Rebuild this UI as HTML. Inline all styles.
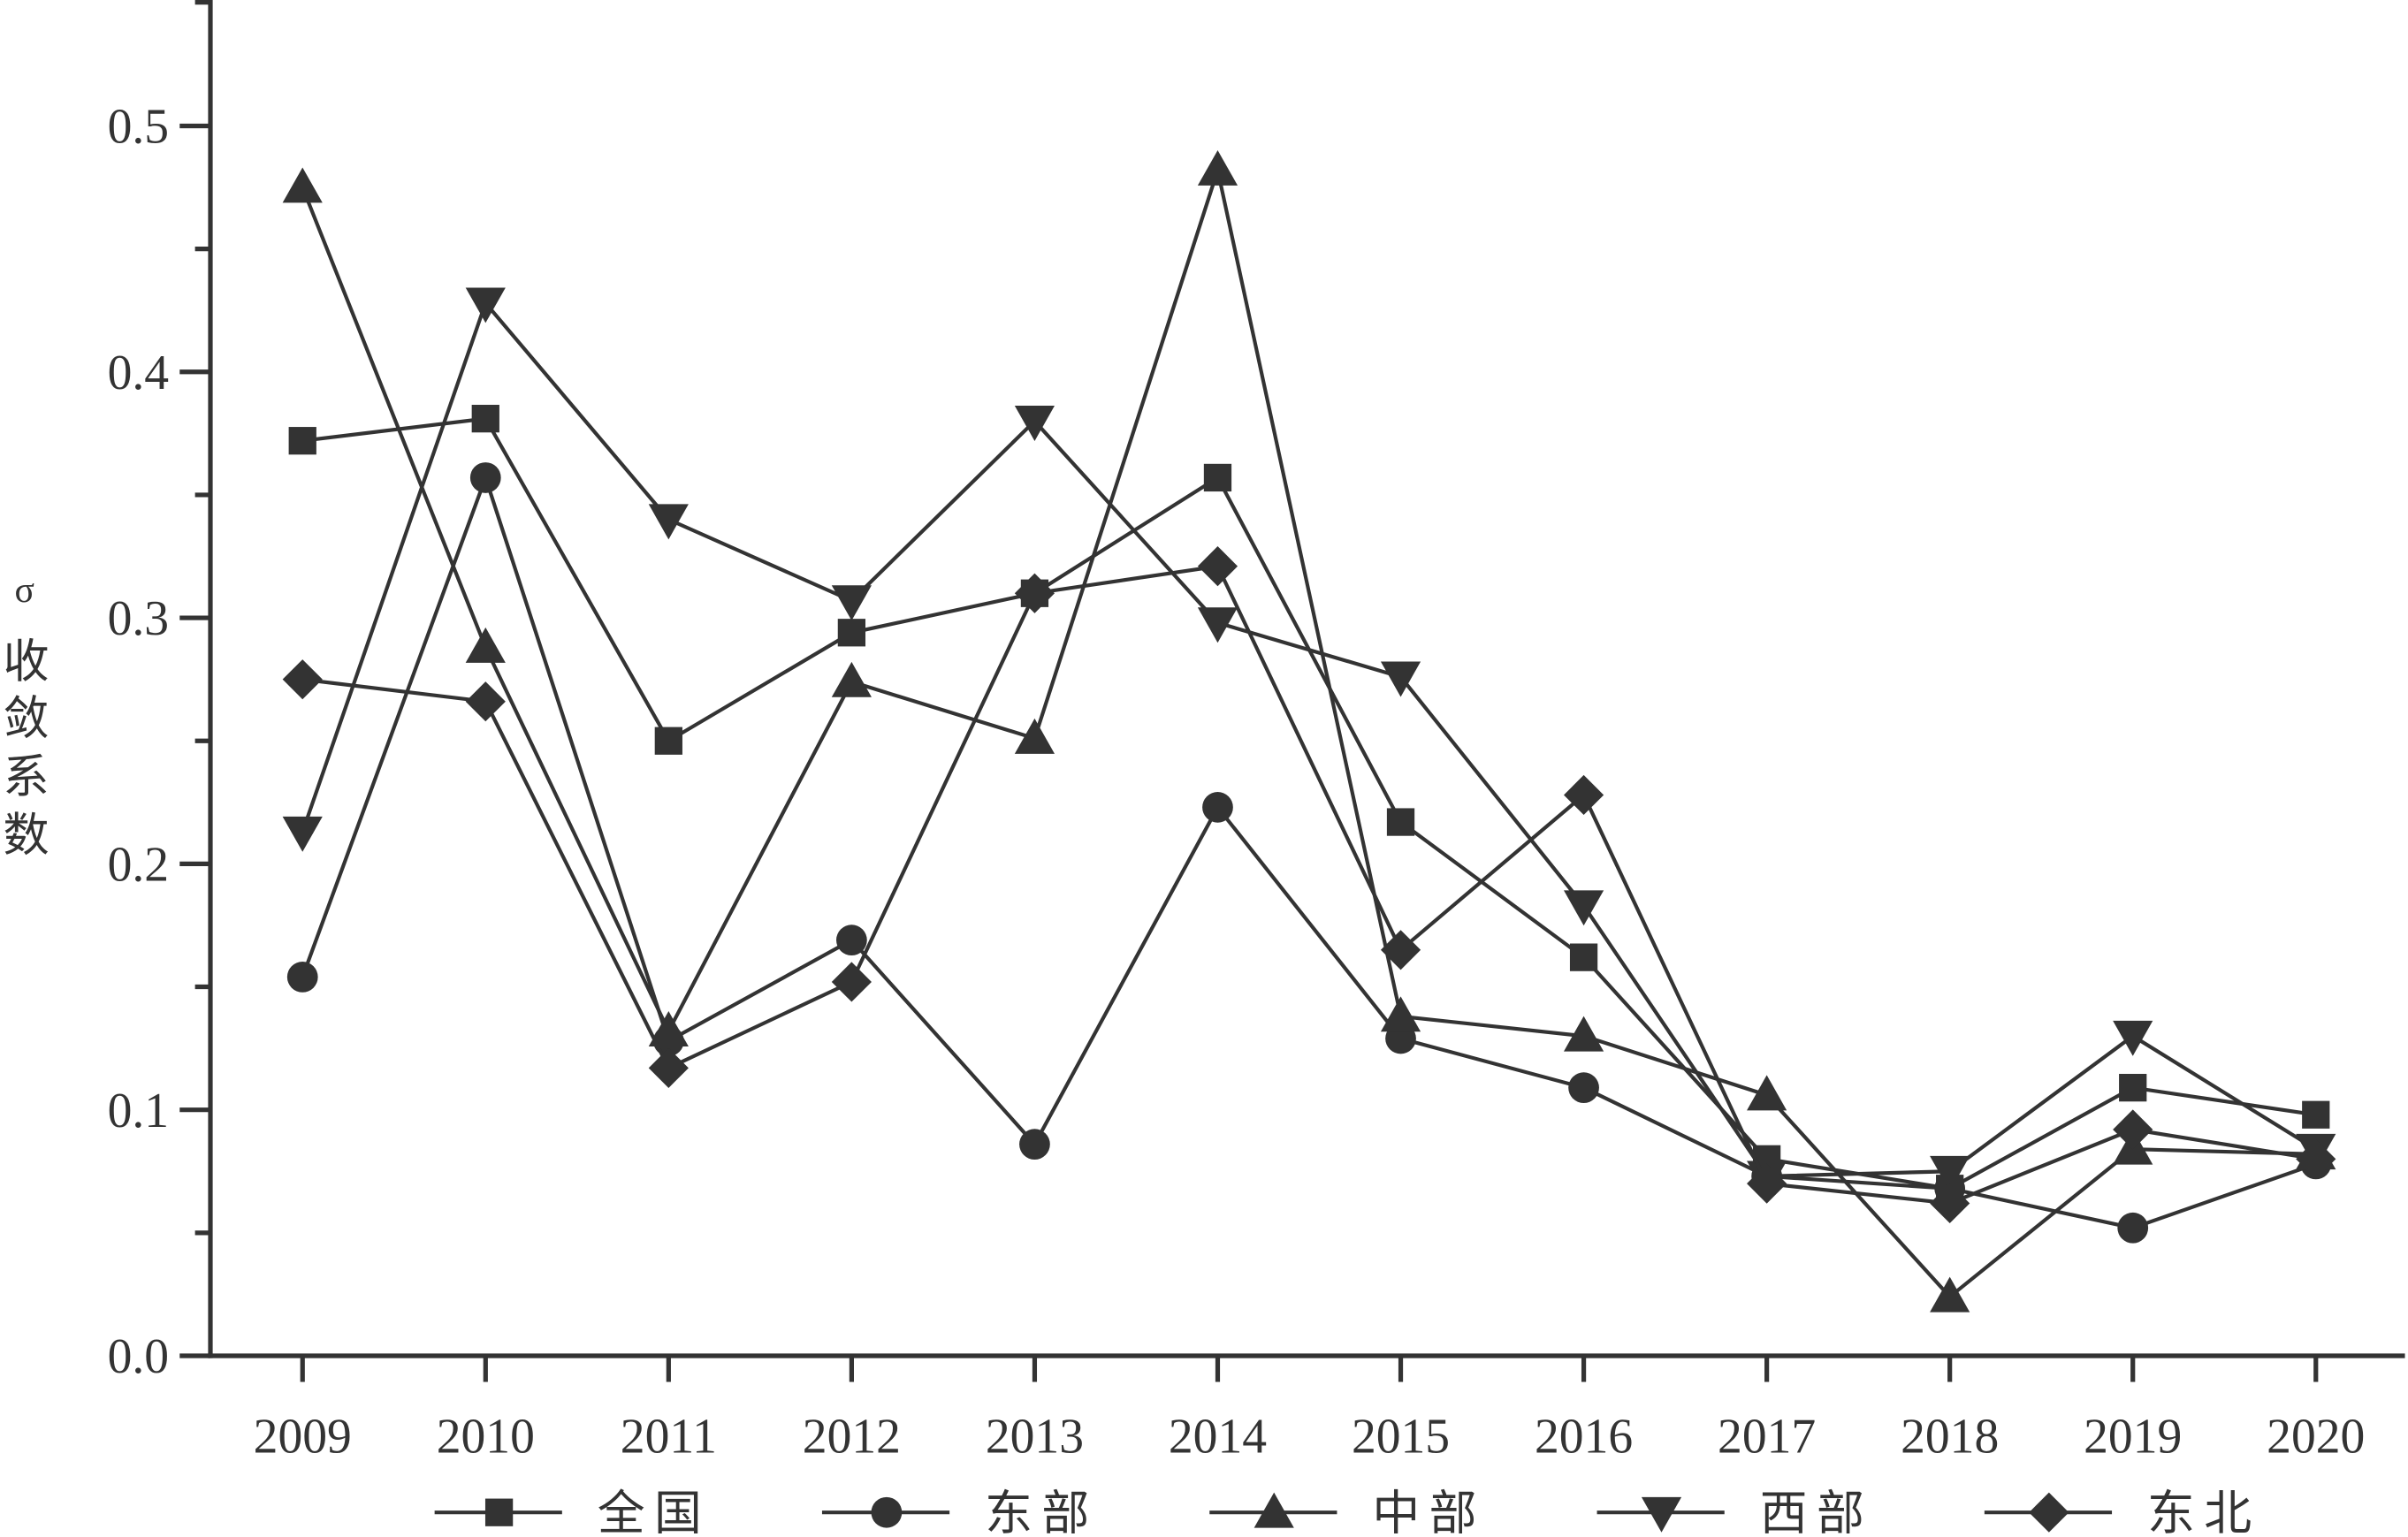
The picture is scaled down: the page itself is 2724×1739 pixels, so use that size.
<!DOCTYPE html>
<html><head><meta charset="utf-8"><style>html,body{margin:0;padding:0;background:#fff}svg{display:block}</style></head>
<body>
<svg id="chart" xmlns="http://www.w3.org/2000/svg" width="2724" height="1739" viewBox="0 0 1568 1001" font-family="'Liberation Serif','Noto Serif CJK SC',serif" fill="#333">
<g id="axes"></g>
<g id="series"></g>
<g id="legend"></g>
<g font-size="30" text-anchor="middle" font-family="'Liberation Serif','Noto Sans CJK SC',sans-serif">
<text x="16" y="392" font-size="24">σ</text>
<text x="17" y="441">收</text><text x="17" y="478">敛</text><text x="17" y="516">系</text><text x="17" y="554">数</text>
</g>
</svg>
<script>
const years=['2009','2010','2011','2012','2013','2014','2015','2016','2017','2018','2019','2020'];
const yTicks=['0.0','0.1','0.2','0.3','0.4','0.5'];
const seriesNames=['全国','东部','中部','西部','东北'];
const national=[.372,.381,.250,.294,.310,.357,.217,.162,.080,.068,.109,.098];
const east=[.154,.357,.128,.169,.086,.223,.129,.109,.073,.068,.052,.078];
const central=[.475,.288,.132,.274,.251,.482,.138,.130,.106,.024,.084,.082];
const west=[.213,.428,.340,.307,.380,.298,.276,.183,.073,.075,.130,.084];
const northeast=[.275,.266,.117,.152,.310,.321,.165,.228,.070,.062,.092,.080];
const NS='http://www.w3.org/2000/svg';
const C='#333';
const X0=197,DX=(1508-197)/11,Y0=883,YS=1602;
const xs=i=>X0+i*DX, ys=v=>Y0-v*YS;
function el(t,a,p){const e=document.createElementNS(NS,t);for(const k in a)e.setAttribute(k,a[k]);p.appendChild(e);return e;}
const ax=document.getElementById('axes');
let e=el('line',{x1:137,y1:0,x2:137,y2:884.5,stroke:C,'stroke-width':3},ax);

e=el('line',{x1:135.5,y1:883,x2:1566,y2:883,stroke:C,'stroke-width':3},ax);

el('line',{x1:127,y1:1.5,x2:137,y2:1.5,stroke:C,'stroke-width':3},ax);
yTicks.forEach((t,i)=>{const v=parseFloat(t),y=ys(v);
 el('line',{x1:117,y1:y,x2:137,y2:y,stroke:C,'stroke-width':3},ax);
 if(i<yTicks.length-1)el('line',{x1:127,y1:ys(v+0.05),x2:137,y2:ys(v+0.05),stroke:C,'stroke-width':3},ax);
 const tx=el('text',{x:110,y:y+11,'font-size':32,'text-anchor':'end'},ax);tx.textContent=t;
 });
years.forEach((t,i)=>{const x=xs(i);
 el('line',{x1:x,y1:883,x2:x,y2:900,stroke:C,'stroke-width':3},ax);
 const tx=el('text',{x:x,y:946,'font-size':32,'text-anchor':'middle'},ax);tx.textContent=t;
 });
function marker(type,x,y,p){const s=11;let m;
 if(type==0)m=el('rect',{x:x-9,y:y-9,width:18,height:18},p);
 else if(type==1)m=el('circle',{cx:x,cy:y,r:10},p);
 else if(type==2)m=el('polygon',{points:`${x},${y-13} ${x+13},${y+10} ${x-13},${y+10}`},p);
 else if(type==3)m=el('polygon',{points:`${x},${y+13} ${x+13},${y-10} ${x-13},${y-10}`},p);
 else m=el('polygon',{points:`${x},${y-13} ${x+13},${y} ${x},${y+13} ${x-13},${y}`},p);
 m.setAttribute('fill',C);return m;}
const sg=document.getElementById('series');
const all=[national,east,central,west,northeast];
const keys=['national','east','central','west','northeast'];
all.forEach((d,k)=>{const g=el('g',{},sg);
 
 el('polyline',{points:d.map((v,i)=>xs(i)+','+ys(v)).join(' '),fill:'none',stroke:C,'stroke-width':2.4},g);
 d.forEach((v,i)=>{const m=marker(k,xs(i),ys(v),g);
  });});
const lg=document.getElementById('legend');
seriesNames.forEach((n,k)=>{const x=283+k*252.3,y=985;const g=el('g',{},lg);
 
 el('line',{x1:x,y1:y,x2:x+83,y2:y,stroke:C,'stroke-width':2.4},g);
 marker(k,x+42,y,g);
 const t=el('text',{x:x+106,y:y+11,'font-size':31,'letter-spacing':'6','font-family':"'Liberation Serif','Noto Sans CJK SC',sans-serif"},g);t.textContent=n;});
</script>
</body></html>
